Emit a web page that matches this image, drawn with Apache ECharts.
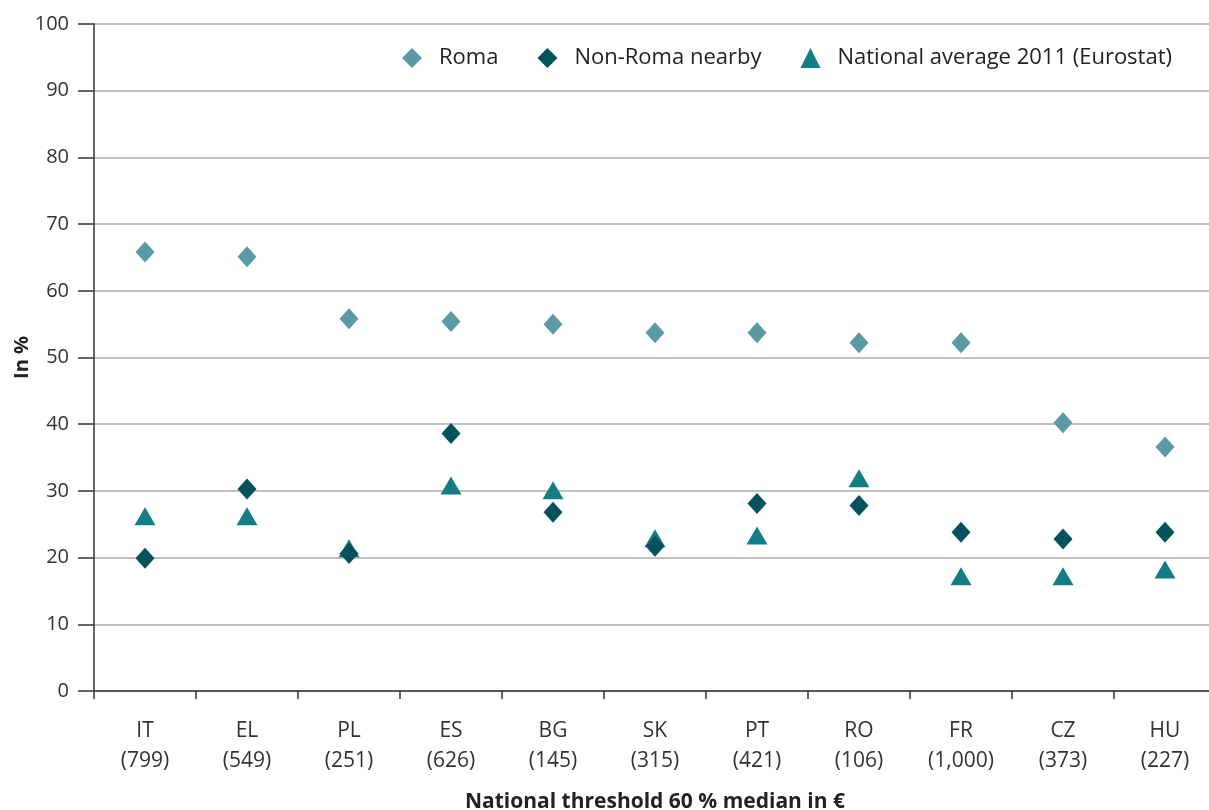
<!DOCTYPE html>
<html>
<head>
<meta charset="utf-8">
<script src="https://cdn.jsdelivr.net/npm/echarts@6/dist/echarts.min.js"></script>
<style>
html,body{margin:0;padding:0;background:#fff;}
#chart{width:1209px;height:810px;}
</style>
</head>
<body>
<div id="chart"></div>
<script>
var countries = ['IT', 'EL', 'PL', 'ES', 'BG', 'SK', 'PT', 'RO', 'FR', 'CZ', 'HU'];
var thresholds = ['799', '549', '251', '626', '145', '315', '421', '106', '1,000', '373', '227'];
var roma = [65.8, 65.1, 55.8, 55.4, 55.0, 53.7, 53.7, 52.2, 52.2, 40.2, 36.6];
var nonRoma = [19.9, 30.3, 20.6, 38.6, 26.8, 21.7, 28.1, 27.8, 23.8, 22.8, 23.8];
var national = [26.2, 26.2, 21.4, 30.8, 30.1, 22.9, 23.3, 31.9, 17.2, 17.2, 18.2];
var yTicks = [0, 10, 20, 30, 40, 50, 60, 70, 80, 90, 100];

var categories = countries.map(function (c, i) { return c + '\n(' + thresholds[i] + ')'; });
var FONT = '"Open Sans", "Noto Sans", sans-serif';

var chart = echarts.init(document.getElementById('chart'), null, {renderer: 'canvas'});
chart.setOption({
  animation: false,
  backgroundColor: '#ffffff',
  textStyle: {fontFamily: FONT, color: '#222'},
  grid: {left: 94, right: -7, top: 24, bottom: 119, containLabel: false, outerBoundsMode: 'none'},
  legend: {
    top: 42,
    right: 32,
    itemWidth: 20,
    itemHeight: 20,
    itemGap: 39,
    textStyle: {fontFamily: FONT, fontSize: 22, color: '#222', padding: [0, 0, 0, 12]},
    data: [
      {name: 'Roma', icon: 'diamond'},
      {name: 'Non-Roma nearby', icon: 'diamond'},
      {name: 'National average 2011 (Eurostat)', icon: 'triangle'}
    ]
  },
  xAxis: {
    type: 'category',
    data: categories,
    boundaryGap: true,
    name: 'National threshold 60 % median in €',
    nameLocation: 'middle',
    nameGap: 101,
    nameMoveOverlap: false,
    nameTextStyle: {fontFamily: FONT, fontSize: 21, fontWeight: 'bold', color: '#222'},
    axisLine: {lineStyle: {color: '#333', width: 1.5}},
    axisTick: {show: true, alignWithLabel: false, length: 8, lineStyle: {color: '#333', width: 1.5}},
    axisLabel: {fontFamily: FONT, fontSize: 21, color: '#333', lineHeight: 30, margin: 25, interval: 0},
    splitLine: {show: false}
  },
  yAxis: {
    type: 'value',
    min: 0,
    max: 100,
    interval: 10,
    name: 'In %',
    nameLocation: 'middle',
    nameGap: 62,
    nameMoveOverlap: false,
    nameRotate: 90,
    nameTextStyle: {fontFamily: FONT, fontSize: 20, fontWeight: 'bold', color: '#222'},
    axisLine: {show: true, lineStyle: {color: '#333', width: 1.5}},
    axisTick: {show: true, length: 16, lineStyle: {color: '#333', width: 1.5}},
    axisLabel: {
      fontFamily: FONT, fontSize: 20, color: '#333', margin: 25,
      formatter: function (v) { return yTicks.indexOf(v) >= 0 ? String(v) : ''; }
    },
    splitLine: {show: true, lineStyle: {color: '#adadad', width: 1.5}}
  },
  series: [
    {
      name: 'National average 2011 (Eurostat)',
      type: 'scatter',
      symbol: 'triangle',
      symbolSize: [21, 18],
      itemStyle: {color: '#137c84', opacity: 1},
      data: national,
      z: 2
    },
    {
      name: 'Roma',
      type: 'scatter',
      symbol: 'diamond',
      symbolSize: [19, 21],
      itemStyle: {color: '#5a9aa5', opacity: 1},
      data: roma,
      z: 3
    },
    {
      name: 'Non-Roma nearby',
      type: 'scatter',
      symbol: 'diamond',
      symbolSize: [19, 21],
      itemStyle: {color: '#03525c', opacity: 1},
      data: nonRoma,
      z: 4
    }
  ]
});
</script>
</body>
</html>
